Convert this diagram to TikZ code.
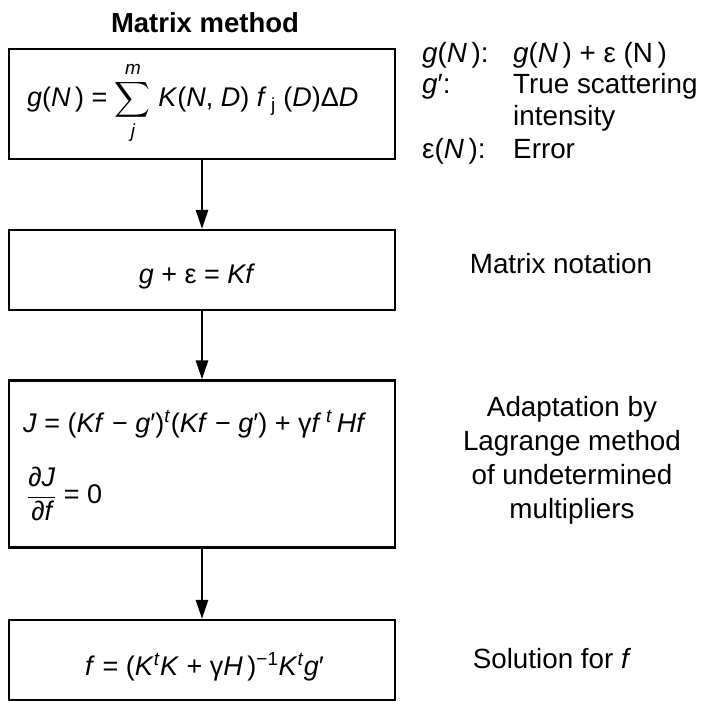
\documentclass[tikz,border=0pt]{standalone}
\usepackage{amsmath}
\usepackage{fontspec}
\setmainfont{Liberation Sans}
\usetikzlibrary{arrows.meta}
\newcommand\I[1]{\textit{#1}}
\tikzset{
  box/.style={draw, line width=2.2pt, inner sep=0pt, minimum width=386pt},
  arr/.style={line width=2.8pt, -{Triangle[length=19pt,width=12pt]}},
  txt/.style={inner sep=0pt, font=\fontsize{27}{34}\selectfont},
  lbl/.style={inner sep=0pt, font=\fontsize{27.8}{33.7}\selectfont},
}
\begin{document}
\begin{tikzpicture}[x=1pt,y=-1pt]
\useasboundingbox (0,0) rectangle (703,701);
% title
\node[lbl, font=\fontsize{27.5}{34}\selectfont\bfseries, anchor=base] (title) at (205,33) {Matrix method};
% boxes
\node[box, minimum height=110pt] (b1) at (202,104) {};
\node[box, minimum height=80pt] (b2) at (202,270) {};
\node[box, minimum height=167pt] (b3) at (202,464) {};
\node[box, minimum height=80pt] (b4) at (202,660) {};
% box texts
\node[txt, anchor=base west] (f1) at (27,106) {\I{g}(\I{N}\,) = $\displaystyle\sum_{\I{j}}^{\I{m}}$ \I{K}(\I{N}, \I{D}) \I{f}\,\textsubscript{j} (\I{D})Δ\I{D}};
\node[txt, anchor=base] (f2) at (197,283) {\I{g} + ε = \I{Kf}};
\node[txt, anchor=base west] (f3a) at (23,432) {\I{J} = (\I{Kf} − \I{g}′)\textsuperscript{\I{t}}(\I{Kf} − \I{g}′) + γ\I{f}\,\textsuperscript{\I{t}}\,\I{Hf}};
\node[txt, anchor=west] (f3b) at (27,494) {$\dfrac{\text{∂\itshape J}}{\text{∂\itshape f}}$ = 0};
\node[txt, anchor=base west] (f4) at (85,675) {\I{f} = (\I{K}\textsuperscript{\I{t}}\I{K} + γ\I{H}\,)\textsuperscript{−1}\I{K}\textsuperscript{\I{t}}\I{g}′};
% arrows
\draw[arr] (b1.south) -- (b2.north);
\draw[arr] (b2.south) -- (b3.north);
\draw[arr] (b3.south) -- (b4.north);
% legend
\node[lbl, anchor=base west] (l1a) at (422,63) {\I{g}(\I{N}\,):};
\node[lbl, anchor=base west] (l1b) at (513,63) {\I{g}(\I{N}\,) + ε (N\,)};
\node[lbl, anchor=base west] (l2a) at (422,93) {\I{g}′:};
\node[lbl, anchor=base west] (l2b) at (513,93) {True scattering};
\node[lbl, anchor=base west] (l3b) at (513,125) {intensity};
\node[lbl, anchor=base west] (l4a) at (422,158) {ε(\I{N}\,):};
\node[lbl, anchor=base west] (l4b) at (513,158) {Error};
% right labels
\node[lbl, anchor=base] (r2) at (561,273) {Matrix notation};
\node[lbl, anchor=base, align=center] (r3) at (572,518) {Adaptation by\\Lagrange method\\of undetermined\\multipliers};
\node[lbl, anchor=base] (r4) at (552,668) {Solution for \I{f}};
\end{tikzpicture}
\end{document}
